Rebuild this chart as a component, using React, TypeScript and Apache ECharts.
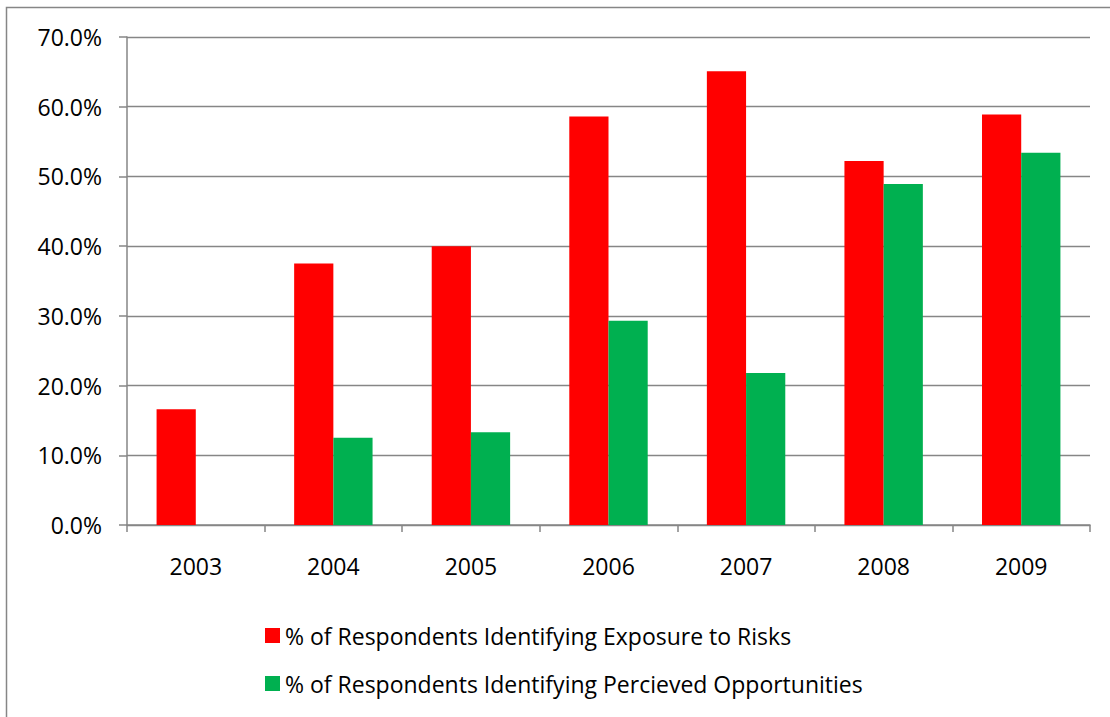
import React, { useEffect, useRef } from "react";
import * as echarts from "echarts";

// Survey years on the category axis
const years = ["2003", "2004", "2005", "2006", "2007", "2008", "2009"];

// Share of respondents (percent) per year
const riskExposure = [16.6, 37.5, 40.0, 58.6, 65.1, 52.2, 58.9];
const perceivedOpportunities = [null, 12.5, 13.3, 29.3, 21.8, 48.9, 53.4];

const seriesNames = [
  "% of Respondents Identifying Exposure to Risks",
  "% of Respondents Identifying Percieved Opportunities",
];

const FONT = "'Open Sans', 'Noto Sans', sans-serif";
const AXIS_GRAY = "#868686";

export default function App() {
  const ref = useRef<HTMLDivElement>(null);

  useEffect(() => {
    if (!ref.current) return;
    const chart = echarts.init(ref.current, null, { renderer: "svg" });
    chart.setOption({
      animation: false,
      backgroundColor: "#ffffff",
      textStyle: { fontFamily: FONT },
      grid: { left: 127, right: 20, top: 37, bottom: 192, containLabel: false },
      graphic: [
        {
          type: "rect",
          shape: { x: 6.5, y: 7.5, width: 1200, height: 800 },
          style: { fill: "none", stroke: AXIS_GRAY, lineWidth: 1.5 },
          silent: true,
        },
      ],
      legend: {
        orient: "vertical",
        left: 260,
        top: 619,
        icon: "rect",
        itemWidth: 15,
        itemHeight: 15,
        itemGap: 25,
        textStyle: { fontFamily: FONT, fontSize: 23, color: "#000" },
        data: seriesNames,
      },
      xAxis: {
        type: "category",
        data: years,
        axisLine: { lineStyle: { color: AXIS_GRAY, width: 1.5 } },
        axisTick: { show: true, length: 7, lineStyle: { color: AXIS_GRAY, width: 1.5 } },
        axisLabel: { color: "#000", fontFamily: FONT, fontSize: 23, margin: 29 },
      },
      yAxis: {
        type: "value",
        min: 0,
        max: 70,
        interval: 10,
        axisLine: { show: true, lineStyle: { color: AXIS_GRAY, width: 1.5 } },
        axisTick: { show: true, length: 8, lineStyle: { color: AXIS_GRAY, width: 1.5 } },
        splitLine: { lineStyle: { color: AXIS_GRAY, width: 1.3 } },
        axisLabel: {
          color: "#000",
          fontFamily: FONT,
          fontSize: 23,
          margin: 25,
          formatter: (v: number) => v.toFixed(1) + "%",
        },
      },
      series: [
        {
          name: seriesNames[0],
          type: "bar",
          data: riskExposure,
          barGap: "0%",
          barCategoryGap: "43%",
          itemStyle: { color: "#FF0000" },
        },
        {
          name: seriesNames[1],
          type: "bar",
          data: perceivedOpportunities,
          barGap: "0%",
          barCategoryGap: "43%",
          itemStyle: { color: "#00B050" },
        },
      ],
    });
    return () => chart.dispose();
  }, []);

  return (
    <div
      ref={ref}
      style={{ position: "absolute", left: 0, top: 0, width: 1110, height: 717 }}
    />
  );
}
